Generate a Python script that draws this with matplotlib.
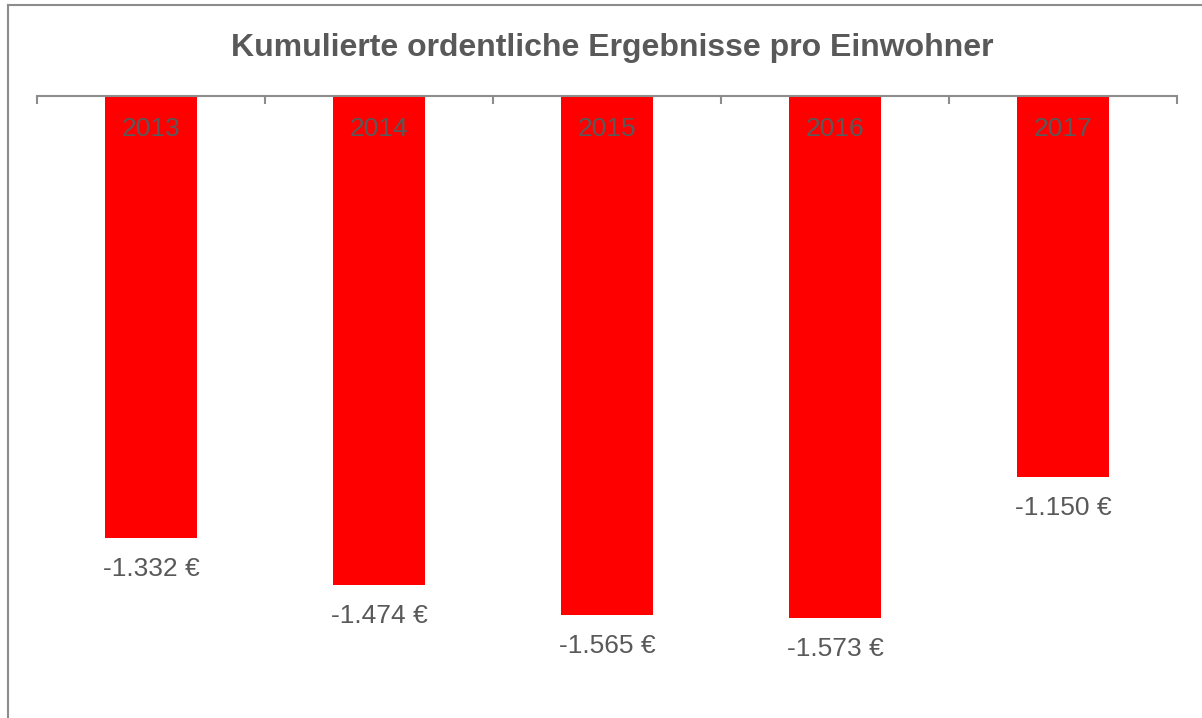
import matplotlib.pyplot as plt
import matplotlib.lines as mlines

# ── Data ─────────────────────────────────────────────────────
years = ['2013', '2014', '2015', '2016', '2017']
values = [-1332, -1474, -1565, -1573, -1150]

plt.rcParams['font.family'] = ['Liberation Sans', 'DejaVu Sans']
text_grey = '#595959'
line_grey = '#8c8c8c'

fig = plt.figure(figsize=(12.02, 7.18), dpi=100)
W, H = 1202, 718
# axes: x 37..1177 px, y top at 96 px, bottom at 693 px
ax = fig.add_axes([37 / W, 1 - 693 / H, (1177 - 37) / W, (693 - 96) / H])

x = list(range(len(years)))
ax.bar(x, values, width=0.4, color='#ff0000', zorder=2)
ax.set_xlim(-0.5, len(years) - 0.5)
ax.set_ylim(-1800, 0)

# year labels inside the bars, near the top
for xi, yr in zip(x, years):
    ax.annotate(yr, (xi, 0), xytext=(0, -33), textcoords='offset pixels',
                ha='center', va='center', fontsize=19, color=text_grey)

# value labels below the bars
for xi, v in zip(x, values):
    lbl = '-' + f'{abs(v):,}'.replace(',', '.') + ' €'
    ax.annotate(lbl, (xi, v), xytext=(0, -31), textcoords='offset pixels',
                ha='center', va='center', fontsize=19, color=text_grey)

# axis at top with category boundary ticks
for s in ['left', 'right', 'bottom']:
    ax.spines[s].set_visible(False)
ax.spines['top'].set_color(line_grey)
ax.spines['top'].set_linewidth(1.5)
ax.xaxis.tick_top()
ax.set_xticks([i - 0.5 for i in range(len(years) + 1)])
ax.set_xticklabels([])
ax.tick_params(axis='x', direction='in', length=5.5, width=1.5, color=line_grey)
ax.set_yticks([])

fig.text(612.5 / W, 1 - 48 / H, 'Kumulierte ordentliche Ergebnisse pro Einwohner',
         ha='center', va='center', fontsize=23, fontweight='bold', color=text_grey)

# outer frame (left and top edges visible)
fig.add_artist(mlines.Line2D([7.5 / W, 7.5 / W], [0, 1 - 5 / H],
                             color=line_grey, lw=1.5, transform=fig.transFigure))
fig.add_artist(mlines.Line2D([7.5 / W, 1], [1 - 5 / H, 1 - 5 / H],
                             color=line_grey, lw=1.5, transform=fig.transFigure))

fig.savefig('out.png', dpi=100)
